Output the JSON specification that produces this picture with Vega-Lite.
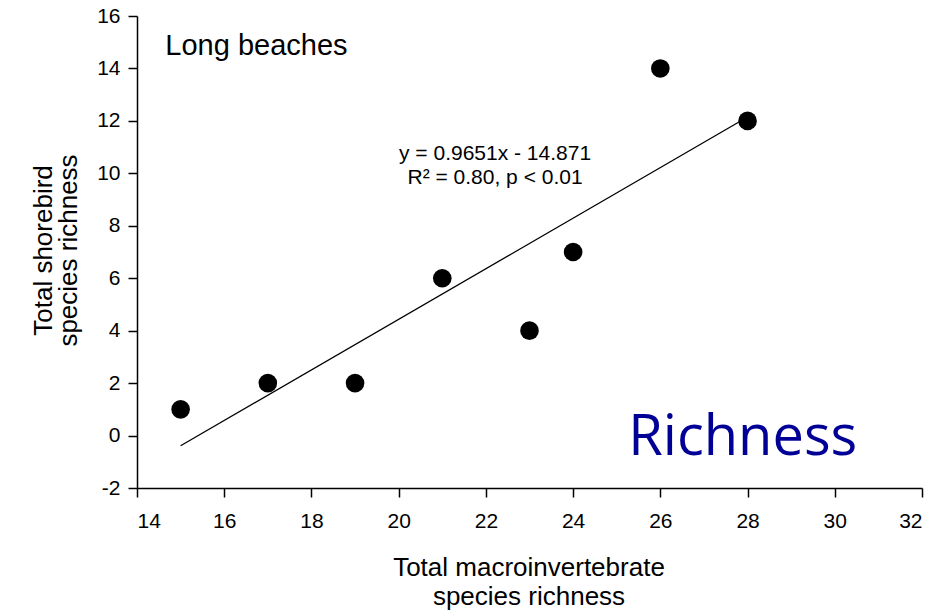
{
  "$schema": "https://vega.github.io/schema/vega-lite/v6.json",
  "width": 785,
  "height": 472,
  "autosize": "none",
  "padding": {"left": 137, "top": 16, "right": 26, "bottom": 123},
  "background": "white",
  "config": {
    "view": {"stroke": null},
    "font": "Liberation Sans",
    "axis": {
      "grid": false,
      "domainColor": "black",
      "domainWidth": 1.5,
      "tickColor": "black",
      "tickWidth": 1.5,
      "tickSize": 9,
      "labelColor": "black",
      "labelFont": "Liberation Sans",
      "labelFontSize": 21,
      "labelExpr": "'' + datum.value",
      "titleFont": "Liberation Sans",
      "titleFontWeight": "normal",
      "titleColor": "black",
      "titleBaseline": "alphabetic"
    }
  },
  "datasets": {
    "pts": [
      {"macro": 15, "bird": 1},
      {"macro": 17, "bird": 2},
      {"macro": 19, "bird": 2},
      {"macro": 21, "bird": 6},
      {"macro": 23, "bird": 4},
      {"macro": 24, "bird": 7},
      {"macro": 26, "bird": 14},
      {"macro": 28, "bird": 12}
    ],
    "fit": [
      {"macro": 15, "bird": -0.39},
      {"macro": 28, "bird": 12.15}
    ],
    "labels": [
      {"macro": 14.65, "bird": 14.51, "txt": "Long beaches", "kind": "title"},
      {"macro": 22.21, "bird": 10.51, "txt": "y = 0.9651x - 14.871", "kind": "eq"},
      {"macro": 22.21, "bird": 9.6, "txt": "R² = 0.80, p < 0.01", "kind": "eq"},
      {"macro": 27.89, "bird": -0.73, "txt": "Richness", "kind": "big"}
    ]
  },
  "layer": [
    {
      "data": {"name": "fit"},
      "mark": {"type": "line", "color": "black", "strokeWidth": 1.3},
      "encoding": {
        "x": {
          "field": "macro", "type": "quantitative",
          "scale": {"domain": [14, 32], "nice": false, "zero": false},
          "axis": {
            "values": [14, 16, 18, 20, 22, 24, 26, 28, 30, 32],
            "title": ["Total macroinvertebrate", "species richness"],
            "labelFontSize": 21,
            "labelPadding": 13,
            "titleFontSize": 26,
            "titleLineHeight": 29,
            "titleX": 391.5,
            "titleY": 87,
            "titleAlign": "center"
          }
        },
        "y": {
          "field": "bird", "type": "quantitative",
          "scale": {"domain": [-2, 16], "nice": false, "zero": false},
          "axis": {
            "values": [-2, 0, 2, 4, 6, 8, 10, 12, 14, 16],
            "title": ["Total shorebird", "species richness"],
            "labelFontSize": 21,
            "labelPadding": 8,
            "titleFontSize": 26,
            "titleLineHeight": 25,
            "titleAngle": -90,
            "titleX": -86,
            "titleY": 234,
            "titleAlign": "center"
          }
        }
      }
    },
    {
      "data": {"name": "pts"},
      "mark": {"type": "circle", "color": "black", "opacity": 1, "size": 346},
      "encoding": {
        "x": {"field": "macro", "type": "quantitative"},
        "y": {"field": "bird", "type": "quantitative"}
      }
    },
    {
      "data": {"name": "labels"},
      "transform": [{"filter": "datum.kind === 'title'"}],
      "mark": {"type": "text", "align": "left", "baseline": "alphabetic", "fontSize": 29, "font": "Liberation Sans", "color": "black"},
      "encoding": {
        "x": {"field": "macro", "type": "quantitative"},
        "y": {"field": "bird", "type": "quantitative"},
        "text": {"field": "txt"}
      }
    },
    {
      "data": {"name": "labels"},
      "transform": [{"filter": "datum.kind === 'eq'"}],
      "mark": {"type": "text", "align": "center", "baseline": "alphabetic", "fontSize": 21, "font": "Liberation Sans", "color": "black"},
      "encoding": {
        "x": {"field": "macro", "type": "quantitative"},
        "y": {"field": "bird", "type": "quantitative"},
        "text": {"field": "txt"}
      }
    },
    {
      "data": {"name": "labels"},
      "transform": [{"filter": "datum.kind === 'big'"}],
      "mark": {"type": "text", "align": "center", "baseline": "alphabetic", "fontSize": 56, "font": "Open Sans", "color": "#000096"},
      "encoding": {
        "x": {"field": "macro", "type": "quantitative"},
        "y": {"field": "bird", "type": "quantitative"},
        "text": {"field": "txt"}
      }
    }
  ]
}
